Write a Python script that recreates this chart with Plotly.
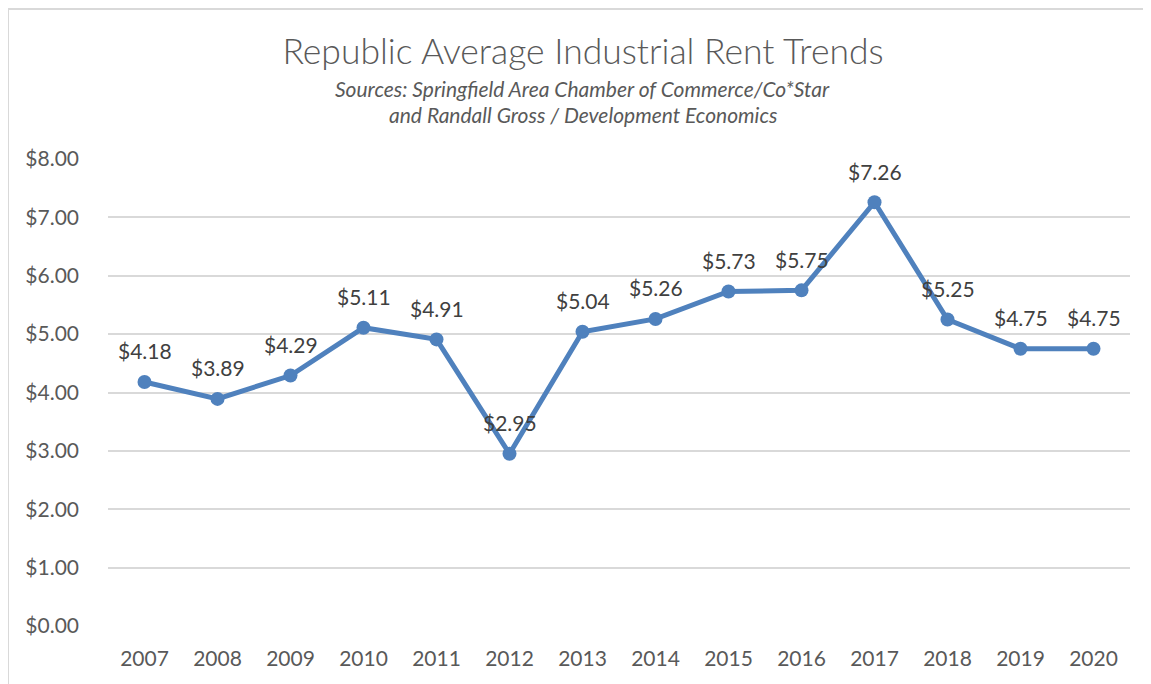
import plotly.graph_objects as go

years = ["2007", "2008", "2009", "2010", "2011", "2012", "2013", "2014",
         "2015", "2016", "2017", "2018", "2019", "2020"]
rents = [4.18, 3.89, 4.29, 5.11, 4.91, 2.95, 5.04, 5.26, 5.73, 5.75, 7.26, 5.25, 4.75, 4.75]
y_ticks = [0, 1, 2, 3, 4, 5, 6, 7, 8]
y_tick_labels = ["$%.2f" % v for v in y_ticks]
labels = ["$%.2f" % v for v in rents]

FONT = "Lato"
TXT = "#595959"
LINE = "#4f81bd"

L, T, W, H = 100, 151, 1022, 467

fig = go.Figure()
fig.add_trace(go.Scatter(
    x=years, y=rents, mode="lines+markers",
    line=dict(color=LINE, width=5),
    marker=dict(color=LINE, size=14),
    hoverinfo="x+y", showlegend=False,
))

annotations = [
    dict(x=i, y=yv, text=t, xref="x", yref="y", showarrow=False,
         yshift=31, xanchor="center", yanchor="middle",
         font=dict(family=FONT, size=21, color="#404040"))
    for i, (yv, t) in enumerate(zip(rents, labels))
]
annotations += [
    dict(
        text="<i>Sources: Springfield Area Chamber of Commerce/Co*Star</i>",
        xref="paper", yref="paper", x=(574.5 - L) / W, y=1 + (T - 81) / H,
        xanchor="center", yanchor="middle", showarrow=False,
        font=dict(family=FONT, size=21, color=TXT),
    ),
    dict(
        text="<i>and Randall Gross / Development Economics</i>",
        xref="paper", yref="paper", x=(574.5 - L) / W, y=1 + (T - 107) / H,
        xanchor="center", yanchor="middle", showarrow=False,
        font=dict(family=FONT, size=21, color=TXT),
    ),
]

fig.update_layout(
    width=1151, height=684,
    paper_bgcolor="white", plot_bgcolor="white",
    margin=dict(l=L, r=1151 - L - W, t=T, b=684 - T - H),
    font=dict(family=FONT, color=TXT),
    title=dict(
        text="Republic Average Industrial Rent Trends",
        font=dict(family=FONT, size=35.5, color=TXT, weight=300),
        x=575 / 1151, xanchor="center", y=1 - 44 / 684, yanchor="middle",
    ),
    xaxis=dict(
        type="category", range=[-0.5, 13.5],
        showgrid=False, showline=False, ticks="",
        ticklabelstandoff=18,
        tickfont=dict(family=FONT, size=21, color=TXT),
    ),
    yaxis=dict(
        range=[0, 8], tickvals=y_ticks, ticktext=y_tick_labels,
        showgrid=True, gridcolor="#d9d9d9", gridwidth=1.5,
        zeroline=False, showline=False, ticks="",
        ticklabelstandoff=28,
        tickfont=dict(family=FONT, size=21, color=TXT),
    ),
    annotations=annotations,
    shapes=[
        dict(type="rect", xref="paper", yref="paper",
             x0=(0 - L) / W, x1=(1139 - L) / W,
             y0=-(684 - T - H + 10) / H, y1=1 + (T - 1) / H,
             line=dict(color="#d9d9d9", width=2), fillcolor="rgba(0,0,0,0)",
             layer="below"),
    ],
)

fig.write_html("out.html")
